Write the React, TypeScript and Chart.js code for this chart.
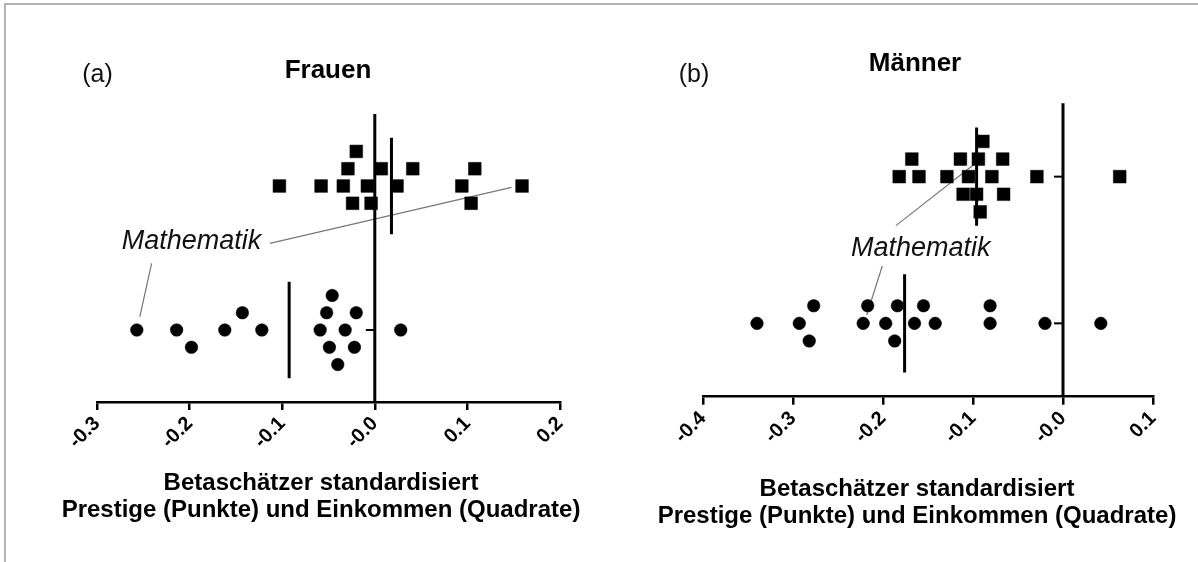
import React, { useEffect, useRef } from "react";
import { Chart, registerables } from "chart.js";

Chart.register(...registerables);

const FONT = "Arial, 'Liberation Sans', sans-serif";

// ---------- Data: Frauen (a) ----------
const einkommenF = [-0.020, -0.029, 0.007, 0.041, 0.108, -0.103, -0.058, -0.034, -0.008, 0.024, 0.094, 0.159, -0.024, -0.004, 0.104];
const einkommenFLevel = [2, 1, 1, 1, 1, 0, 0, 0, 0, 0, 0, 0, -1, -1, -1];
const prestigeF = [-0.257, -0.214, -0.198, -0.162, -0.143, -0.122, -0.046, -0.052, -0.020, -0.059, -0.032, -0.049, -0.022, -0.040, 0.028];
const prestigeFLevel = [0, 0, -1, 0, 1, 0, 2, 1, 1, 0, 0, -1, -1, -2, 0];
const meanEinkommenF = 0.018;
const meanPrestigeF = -0.0925;
const xTicksF = [-0.3, -0.2, -0.1, 0.0, 0.1, 0.2];
const xTickLabelsF = ["-0.3", "-0.2", "-0.1", "-0.0", "0.1", "0.2"];
// Mathematik annotation (text anchor, leader lines) in data space
const mathTextF = { x: -0.198, y: 1.615 };
const mathLinesF = [
  [{ x: -0.1134, y: 1.602 }, { x: 0.1476, y: 1.991 }],
  [{ x: -0.241, y: 1.463 }, { x: -0.2538, y: 1.092 }],
];

// ---------- Data: Männer (b) ----------
const einkommenM = [-0.089, -0.168, -0.114, -0.094, -0.067, -0.182, -0.160, -0.129, -0.105, -0.079, -0.029, 0.063, -0.111, -0.096, -0.066, -0.092];
const einkommenMLevel = [2, 1, 1, 1, 1, 0, 0, 0, 0, 0, 0, 0, -1, -1, -1, -2];
const prestigeM = [-0.340, -0.293, -0.277, -0.282, -0.217, -0.222, -0.197, -0.184, -0.187, -0.165, -0.155, -0.142, -0.081, -0.081, -0.020, 0.042];
const prestigeMLevel = [0, 0, 1, -1, 1, 0, 0, 1, -1, 0, 1, 0, 1, 0, 0, 0];
const meanEinkommenM = -0.096;
const meanPrestigeM = -0.176;
const xTicksM = [-0.4, -0.3, -0.2, -0.1, 0.0, 0.1];
const xTickLabelsM = ["-0.4", "-0.3", "-0.2", "-0.1", "-0.0", "0.1"];
const mathTextM = { x: -0.158, y: 1.513 };
const mathLinesM = [
  [{ x: -0.1856, y: 1.666 }, { x: -0.0997, y: 2.08 }],
  [{ x: -0.2008, y: 1.391 }, { x: -0.2181, y: 1.057 }],
];

const axisTitle = ["Betaschätzer standardisiert", "Prestige (Punkte) und Einkommen (Quadrate)"];

// categories on the y axis
const ROW_PRESTIGE = 1;
const ROW_EINKOMMEN = 2;
const STACK_STEP = 0.12;
const MEAN_HALF = 0.335;

type PanelCfg = {
  title: string;
  label: string;
  einkommen: number[];
  einkommenLevel: number[];
  prestige: number[];
  prestigeLevel: number[];
  meanE: number;
  meanP: number;
  ticks: number[];
  tickLabels: string[];
  mathText: { x: number; y: number };
  mathLines: { x: number; y: number }[][];
  padLeft: number;
  padRight: number;
  padTop: number;
  axisHeight: number;
  titleX: number;
  titleY: number;
  axisTitleX: number;
  axisTitleY: number;
  labelX: number;
  labelY: number;
  stackStep: number;
};

function makeChart(canvas: HTMLCanvasElement, c: PanelCfg) {
  const toPts = (xs: number[], lv: number[], row: number) =>
    xs.map((x, i) => ({ x, y: row + lv[i] * c.stackStep }));

  const overlay = {
    id: "overlay",
    afterDatasetsDraw(chart: any) {
      const ctx = chart.ctx;
      const xs = chart.scales.x;
      const ys = chart.scales.y;
      const x0 = xs.getPixelForValue(0);
      ctx.save();
      // y axis at zero
      ctx.strokeStyle = "#000";
      ctx.lineWidth = 3;
      ctx.beginPath();
      ctx.moveTo(x0, ys.getPixelForValue(ys.max));
      ctx.lineTo(x0, chart.chartArea.bottom);
      ctx.stroke();
      ctx.lineWidth = 2;
      [ROW_PRESTIGE, ROW_EINKOMMEN].forEach((r) => {
        const y = ys.getPixelForValue(r);
        ctx.beginPath();
        ctx.moveTo(x0 - 9, y);
        ctx.lineTo(x0, y);
        ctx.stroke();
      });
      ctx.textAlign = "center";
      ctx.textBaseline = "middle";
      // Mathematik label
      ctx.fillStyle = "#111";
      ctx.font = `italic 27px ${FONT}`;
      ctx.fillText("Mathematik", xs.getPixelForValue(c.mathText.x), ys.getPixelForValue(c.mathText.y));
      // panel label
      ctx.font = `25px ${FONT}`;
      ctx.fillText(c.label, c.labelX, c.labelY);
      // panel title
      ctx.fillStyle = "#000";
      ctx.font = `bold 26px ${FONT}`;
      ctx.fillText(c.title, c.titleX, c.titleY);
      // axis title (two lines)
      ctx.font = `bold 24px ${FONT}`;
      axisTitle.forEach((line, i) => {
        ctx.fillText(line, c.axisTitleX, c.axisTitleY + i * 27.5);
      });
      ctx.restore();
    },
  };

  const lineDs = (pts: { x: number; y: number }[], color: string, w: number) => ({
    type: "line" as const,
    data: pts,
    borderColor: color,
    borderWidth: w,
    pointRadius: 0,
    showLine: true,
    fill: false,
    order: 0,
  });

  return new Chart(canvas, {
    type: "scatter",
    data: {
      datasets: [
        {
          label: "Einkommen",
          data: toPts(c.einkommen, c.einkommenLevel, ROW_EINKOMMEN),
          pointStyle: "rect",
          pointRadius: 9,
          backgroundColor: "#000",
          borderColor: "#000",
          borderWidth: 0.5,
        },
        {
          label: "Prestige",
          data: toPts(c.prestige, c.prestigeLevel, ROW_PRESTIGE),
          pointStyle: "circle",
          pointRadius: 6.3,
          backgroundColor: "#000",
          borderColor: "#000",
          borderWidth: 0.5,
        },
        lineDs([{ x: c.meanE, y: ROW_EINKOMMEN - MEAN_HALF }, { x: c.meanE, y: ROW_EINKOMMEN + MEAN_HALF }], "#000", 3),
        lineDs([{ x: c.meanP, y: ROW_PRESTIGE - MEAN_HALF }, { x: c.meanP, y: ROW_PRESTIGE + MEAN_HALF }], "#000", 3),
        lineDs(c.mathLines[0], "#777", 1.2),
        lineDs(c.mathLines[1], "#777", 1.2),
      ] as any,
    },
    options: {
      animation: false,
      responsive: false,
      devicePixelRatio: 1,
      layout: { padding: { left: c.padLeft, right: c.padRight, top: c.padTop, bottom: 0 } },
      plugins: {
        legend: { display: false },
        tooltip: { enabled: false },
        title: { display: false },
      },
      scales: {
        x: {
          type: "linear",
          min: c.ticks[0],
          max: c.ticks[c.ticks.length - 1],
          afterBuildTicks: (s: any) => {
            s.ticks = c.ticks.map((v) => ({ value: v }));
          },
          afterFit: (s: any) => {
            s.height = c.axisHeight;
            s.paddingLeft = 0;
            s.paddingRight = 0;
          },
          border: { display: true, color: "#000", width: 2.5 },
          grid: { display: true, drawOnChartArea: false, drawTicks: true, tickLength: 8, color: "#000", lineWidth: 2.5 },
          ticks: {
            color: "#000",
            minRotation: 45,
            maxRotation: 45,
            padding: 2,
            autoSkip: false,
            font: { family: FONT, size: 20, weight: "bold" },
            callback: (_v: any, i: number) => c.tickLabels[i],
          },
          title: { display: false },
        },
        y: {
          type: "linear",
          display: false,
          min: 0.5,
          max: 2.5,
        },
      },
    },
    plugins: [overlay],
  } as any);
}

const cfgF: PanelCfg = {
  title: "Frauen",
  label: "(a)",
  einkommen: einkommenF,
  einkommenLevel: einkommenFLevel,
  prestige: prestigeF,
  prestigeLevel: prestigeFLevel,
  meanE: meanEinkommenF,
  meanP: meanPrestigeF,
  ticks: xTicksF,
  tickLabels: xTickLabelsF,
  mathText: mathTextF,
  mathLines: mathLinesF,
  padLeft: 97,
  padRight: 39,
  padTop: 114,
  axisHeight: 160,
  titleX: 328,
  titleY: 71,
  axisTitleX: 321,
  axisTitleY: 483,
  labelX: 97.5,
  labelY: 75,
  stackStep: STACK_STEP,
};

const cfgM: PanelCfg = {
  title: "Männer",
  label: "(b)",
  einkommen: einkommenM,
  einkommenLevel: einkommenMLevel,
  prestige: prestigeM,
  prestigeLevel: prestigeMLevel,
  meanE: meanEinkommenM,
  meanP: meanPrestigeM,
  ticks: xTicksM,
  tickLabels: xTickLabelsM,
  mathText: mathTextM,
  mathLines: mathLinesM,
  padLeft: 104,
  padRight: 45,
  padTop: 103.3,
  axisHeight: 165.3,
  titleX: 316,
  titleY: 64,
  axisTitleX: 318,
  axisTitleY: 489,
  labelX: 95,
  labelY: 75,
  stackStep: STACK_STEP,
};

function Panel({ cfg, left }: { cfg: PanelCfg; left: number }) {
  const ref = useRef<HTMLCanvasElement | null>(null);
  useEffect(() => {
    if (!ref.current) return;
    const ch = makeChart(ref.current, cfg);
    return () => ch.destroy();
  }, [cfg]);
  return (
    <canvas
      ref={ref}
      width={599}
      height={562}
      style={{ position: "absolute", left, top: 0, width: 599, height: 562 }}
    />
  );
}

export default function App() {
  return (
    <div style={{ position: "fixed", left: 0, top: 0, width: 1198, height: 562, background: "#fff", overflow: "hidden" }}>
      <div
        style={{
          position: "absolute",
          left: 4,
          top: 3,
          width: 1194,
          height: 559,
          borderTop: "2px solid #b4b4b4",
          borderLeft: "2px solid #b4b4b4",
          boxSizing: "border-box",
        }}
      />
      <Panel cfg={cfgF} left={0} />
      <Panel cfg={cfgM} left={599} />
    </div>
  );
}
